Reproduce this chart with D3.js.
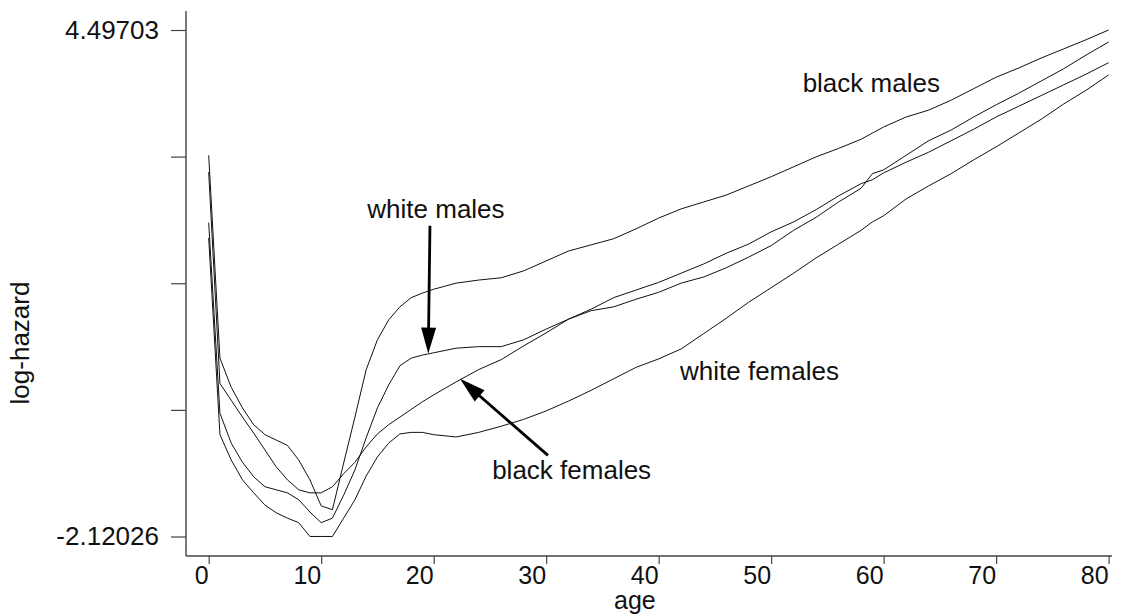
<!DOCTYPE html>
<html>
<head>
<meta charset="utf-8">
<script src="https://cdn.jsdelivr.net/npm/d3@7"></script>
<style>
    body { margin: 0; background: #fff; }
    svg { display: block; }
    text { font-family: "Liberation Sans", Arial, sans-serif; fill: #111; }
</style>
</head>
<body>
<svg width="1124" height="614"></svg>
<script>
// ages (years) and log-hazard
let ages = [0, 1, 2, 3, 4, 5, 6, 7, 8, 9, 10, 11, 12, 13, 14, 15, 16, 17, 18, 19, 20,
    22, 24, 26, 28, 30, 32, 34, 36, 38, 40, 42, 44, 46, 48, 50, 52, 54, 56, 58, 59,
    60, 62, 64, 66, 68, 70, 72, 74, 76, 78, 80];

let blackMales = [2.86, 0.21, -0.17, -0.44, -0.66, -0.79, -0.86, -0.93, -1.12, -1.38, -1.72, -1.77, -1.16, -0.56, 0.06, 0.45, 0.71, 0.88, 1.00, 1.06, 1.11,
    1.19, 1.23, 1.26, 1.35, 1.48, 1.61, 1.69, 1.77, 1.90, 2.04, 2.16, 2.25, 2.34, 2.46, 2.58, 2.71, 2.84, 2.95, 3.07, 3.15,
    3.23, 3.36, 3.45, 3.58, 3.73, 3.88, 4.00, 4.13, 4.25, 4.37, 4.497];

let whiteMales = [1.98, -0.51, -0.90, -1.15, -1.34, -1.47, -1.51, -1.55, -1.64, -1.80, -1.94, -1.88, -1.58, -1.25, -0.83, -0.44, -0.14, 0.11, 0.21, 0.25, 0.28,
    0.34, 0.36, 0.36, 0.45, 0.59, 0.72, 0.83, 0.88, 0.98, 1.07, 1.19, 1.27, 1.39, 1.53, 1.68, 1.88, 2.05, 2.25, 2.43, 2.62,
    2.67, 2.86, 3.05, 3.19, 3.36, 3.52, 3.67, 3.83, 3.99, 4.17, 4.34];

let blackFemales = [2.64, -0.12, -0.34, -0.56, -0.77, -0.99, -1.21, -1.38, -1.51, -1.55, -1.55, -1.47, -1.30, -1.15, -0.95, -0.78, -0.66, -0.56, -0.46, -0.36, -0.27,
    -0.10, 0.06, 0.19, 0.37, 0.54, 0.72, 0.85, 1.00, 1.10, 1.20, 1.32, 1.44, 1.58, 1.70, 1.86, 1.99, 2.15, 2.33, 2.49, 2.54,
    2.63, 2.77, 2.90, 3.05, 3.20, 3.36, 3.50, 3.64, 3.78, 3.92, 4.07];

let whiteFemales = [1.78, -0.79, -1.12, -1.38, -1.55, -1.71, -1.81, -1.88, -1.94, -2.12, -2.12, -2.12, -1.88, -1.64, -1.33, -1.08, -0.90, -0.78, -0.76, -0.76, -0.79,
    -0.82, -0.76, -0.68, -0.59, -0.48, -0.35, -0.21, -0.06, 0.09, 0.20, 0.33, 0.53, 0.73, 0.94, 1.13, 1.32, 1.52, 1.70, 1.88, 1.99,
    2.07, 2.29, 2.46, 2.62, 2.80, 2.97, 3.15, 3.33, 3.53, 3.71, 3.91];

let xTicks = [0, 10, 20, 30, 40, 50, 60, 70, 80];
let yTicks = [4.49703, 2.84271, 1.18839, -0.46593, -2.12026];
let yTickLabels = ["4.49703", "", "", "", "-2.12026"];

// labels and arrows, placed in data units (age, log-hazard)
let labels = [
    {text: "black males", age: 52.8, v: 3.69},
    {text: "white males", age: 14.1, v: 2.04},
    {text: "white females", age: 41.9, v: -0.07},
    {text: "black females", age: 25.2, v: -1.37}
];
let arrows = [
    {from: [19.67, 1.94], to: [19.52, 0.27]},
    {from: [30.16, -1.06], to: [22.34, -0.06]}
];

let svg = d3.select("svg");

let axisX = 186;
let axisY = 556;

let xScale = d3.scaleLinear().domain([0, 80]).range([208.7, 1108.6]);
let yScale = d3.scaleLinear().domain([-2.12026, 4.49703]).range([536.5, 30]);

// axes
let yAxis = d3.axisLeft(yScale)
    .tickValues(yTicks)
    .tickFormat((d, i) => yTickLabels[i])
    .tickSize(15)
    .tickPadding(12);
let gy = svg.append("g")
    .attr("transform", "translate(" + axisX + ",0)")
    .call(yAxis);
gy.select(".domain").remove();
gy.selectAll("line").attr("stroke", "#444").attr("stroke-width", 1.2);
gy.selectAll("text").style("font-size", "26px").attr("fill", "#111");

let xAxis = d3.axisBottom(xScale)
    .tickValues(xTicks)
    .tickSize(8);
let gx = svg.append("g")
    .attr("transform", "translate(0," + axisY + ")")
    .call(xAxis);
gx.select(".domain").remove();
gx.selectAll("line").attr("stroke", "#444").attr("stroke-width", 1.2);
gx.selectAll("text")
    .style("font-size", "25px")
    .attr("fill", "#111")
    .attr("text-anchor", "end")
    .attr("x", -0.5)
    .attr("y", 28)
    .attr("dy", 0);

svg.append("line")
    .attr("x1", axisX).attr("x2", axisX)
    .attr("y1", 11).attr("y2", axisY)
    .attr("stroke", "#444").attr("stroke-width", 1.4);
svg.append("line")
    .attr("x1", axisX).attr("x2", 1112)
    .attr("y1", axisY).attr("y2", axisY)
    .attr("stroke", "#444").attr("stroke-width", 1.4);

svg.append("text")
    .attr("text-anchor", "middle")
    .attr("transform", "translate(29,343) rotate(-90)")
    .style("font-size", "26px")
    .text("log-hazard");

svg.append("text")
    .attr("x", 614)
    .attr("y", 609)
    .style("font-size", "25px")
    .text("age");

// curves
let line = d3.line()
    .x((d, i) => xScale(ages[i]))
    .y(d => yScale(d));

[blackMales, whiteMales, blackFemales, whiteFemales].forEach(s => {
    svg.append("path")
        .datum(s)
        .attr("d", line)
        .attr("fill", "none")
        .attr("stroke", "#111")
        .attr("stroke-width", 1);
});

// labels
svg.selectAll(".lbl")
    .data(labels)
    .enter()
    .append("text")
    .attr("class", "lbl")
    .attr("x", d => xScale(d.age))
    .attr("y", d => yScale(d.v))
    .style("font-size", "26px")
    .text(d => d.text);

// arrows
arrows.forEach(a => {
    let x1 = xScale(a.from[0]), y1 = yScale(a.from[1]);
    let x2 = xScale(a.to[0]), y2 = yScale(a.to[1]);
    let len = Math.hypot(x2 - x1, y2 - y1);
    let ux = (x2 - x1) / len, uy = (y2 - y1) / len;
    let headL = 26, headW = 7.5;
    let bx = x2 - ux * headL, by = y2 - uy * headL;
    svg.append("line")
        .attr("x1", x1).attr("y1", y1)
        .attr("x2", bx + ux * 4).attr("y2", by + uy * 4)
        .attr("stroke", "#000")
        .attr("stroke-width", 2.8);
    svg.append("path")
        .attr("d", "M" + x2 + "," + y2 +
            "L" + (bx - uy * headW) + "," + (by + ux * headW) +
            "L" + (bx + uy * headW) + "," + (by - ux * headW) + "Z")
        .attr("fill", "#000");
});
</script>
</body>
</html>
